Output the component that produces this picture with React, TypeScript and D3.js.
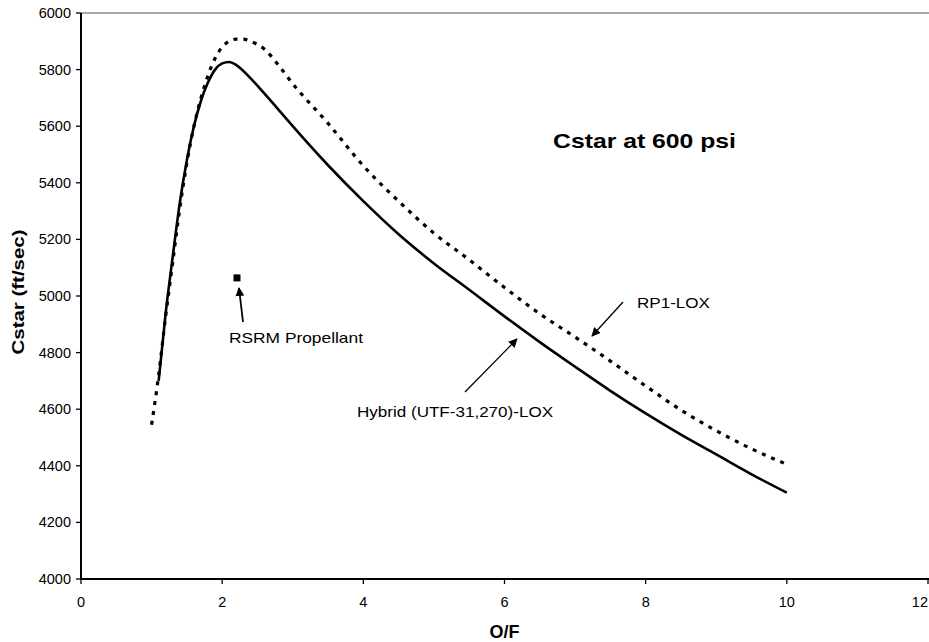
import React from "react";
import * as d3 from "d3";

// O/F ratio vs characteristic velocity (Cstar) at 600 psi
const hybridOF = [1.1, 1.2, 1.3, 1.4, 1.5, 1.6, 1.7, 1.8, 1.9, 2.0, 2.1, 2.2, 2.4, 2.6, 2.8, 3.0, 3.5, 4.0, 4.5, 5.0, 5.5, 6.0, 6.5, 7.0, 7.5, 8.0, 8.5, 9.0, 9.5, 10.0];
const hybridCstar = [4700, 4940, 5140, 5330, 5480, 5600, 5690, 5755, 5800, 5822, 5827, 5816, 5770, 5715, 5658, 5600, 5462, 5335, 5218, 5115, 5022, 4928, 4837, 4750, 4665, 4585, 4510, 4440, 4370, 4305];

const rp1OF = [1.0, 1.1, 1.2, 1.3, 1.4, 1.5, 1.6, 1.7, 1.8, 1.9, 2.0, 2.1, 2.2, 2.3, 2.4, 2.6, 2.8, 3.0, 3.5, 4.0, 4.5, 5.0, 5.5, 6.0, 6.5, 7.0, 7.5, 8.0, 8.5, 9.0, 9.5, 10.0];
const rp1Cstar = [4545, 4720, 4930, 5120, 5310, 5470, 5600, 5700, 5780, 5840, 5880, 5900, 5908, 5908, 5900, 5872, 5815, 5750, 5610, 5460, 5335, 5222, 5128, 5030, 4937, 4855, 4770, 4682, 4597, 4524, 4460, 4405];

const rsrmOF = [2.21];
const rsrmCstar = [5064];

const xTicks = [0, 2, 4, 6, 8, 10, 12];
const yTicks = [4000, 4200, 4400, 4600, 4800, 5000, 5200, 5400, 5600, 5800, 6000];

const W = 929;
const H = 642;
const FONT = "'Liberation Sans', Arial, sans-serif";

export default function App() {
  const x = d3.scaleLinear().domain([0, 12]).range([81, 928]);
  const y = d3.scaleLinear().domain([4000, 6000]).range([579, 13]);

  const line = d3
    .line<[number, number]>()
    .x((d) => x(d[0]))
    .y((d) => y(d[1]))
    .curve(d3.curveMonotoneX);

  const hybridPath = line(hybridOF.map((v, i) => [v, hybridCstar[i]]) as [number, number][]) || "";
  const rp1Path = line(rp1OF.map((v, i) => [v, rp1Cstar[i]]) as [number, number][]) || "";

  return (
    <svg
      width={W}
      height={H}
      viewBox={`0 0 ${W} ${H}`}
      style={{ position: "absolute", left: 0, top: 0, background: "#fff" }}
      fontFamily={FONT}
    >
      <defs>
        <marker id="head" viewBox="0 0 10 10" refX="9" refY="5" markerWidth="9" markerHeight="9" orient="auto" markerUnits="userSpaceOnUse">
          <path d="M0,0 L10,5 L0,10 z" fill="#000" />
        </marker>
      </defs>

      {/* plot frame top edge */}
      <line x1={x(0)} x2={W} y1={y(6000)} y2={y(6000)} stroke="#555" strokeWidth={1.2} />

      {/* y axis */}
      <line x1={x(0)} x2={x(0)} y1={y(6000)} y2={y(4000) + 1} stroke="#000" strokeWidth={2} />
      {yTicks.map((t) => (
        <g key={`y${t}`}>
          <line x1={x(0) - 5} x2={x(0)} y1={y(t)} y2={y(t)} stroke="#000" strokeWidth={1.3} />
          <text x={71} y={y(t)} dy="0.35em" textAnchor="end" fontSize={14.5} fill="#000">
            {t}
          </text>
        </g>
      ))}

      {/* x axis */}
      <line x1={x(0) - 1} x2={W} y1={y(4000)} y2={y(4000)} stroke="#000" strokeWidth={2} />
      {xTicks.map((t) => (
        <g key={`x${t}`}>
          <line x1={x(t)} x2={x(t)} y1={y(4000)} y2={y(4000) + 5} stroke="#000" strokeWidth={1.3} />
          <text
            x={t === 12 ? W - 1 : x(t)}
            y={607}
            textAnchor={t === 12 ? "end" : "middle"}
            fontSize={14.5}
            fill="#000"
          >
            {t}
          </text>
        </g>
      ))}

      {/* axis titles */}
      <text x={x(6)} y={638} textAnchor="middle" fontSize={18} fontWeight="bold" fill="#000">
        O/F
      </text>
      <text
        transform={`translate(24,292) rotate(-90)`}
        textAnchor="middle"
        fontSize={16}
        fontWeight="bold"
        fill="#000"
        textLength={125}
        lengthAdjust="spacingAndGlyphs"
      >
        Cstar (ft/sec)
      </text>

      {/* series */}
      <path d={rp1Path} fill="none" stroke="#000" strokeWidth={3.2} strokeDasharray="4 6" />
      <path d={hybridPath} fill="none" stroke="#000" strokeWidth={2.6} />

      {/* RSRM point */}
      {rsrmOF.map((v, i) => (
        <rect key={`r${i}`} x={x(v) - 3.5} y={y(rsrmCstar[i]) - 3.5} width={7} height={7} fill="#000" />
      ))}

      {/* title */}
      <text x={553} y={148} fontSize={21} fontWeight="bold" fill="#000" textLength={183} lengthAdjust="spacingAndGlyphs">
        Cstar at 600 psi
      </text>

      {/* annotations */}
      <line x1={243} y1={322} x2={239} y2={288} stroke="#000" strokeWidth={1.8} markerEnd="url(#head)" />
      <text x={229} y={343} fontSize={15} fill="#000" textLength={134} lengthAdjust="spacingAndGlyphs">
        RSRM Propellant
      </text>

      <line x1={465} y1={392} x2={517} y2={339} stroke="#000" strokeWidth={1.3} markerEnd="url(#head)" />
      <text x={357} y={417} fontSize={15} fill="#000" textLength={196} lengthAdjust="spacingAndGlyphs">
        Hybrid (UTF-31,270)-LOX
      </text>

      <line x1={623} y1={302} x2={592} y2={336} stroke="#000" strokeWidth={1.3} markerEnd="url(#head)" />
      <text x={637} y={308} fontSize={15} fill="#000" textLength={73} lengthAdjust="spacingAndGlyphs">
        RP1-LOX
      </text>
    </svg>
  );
}
